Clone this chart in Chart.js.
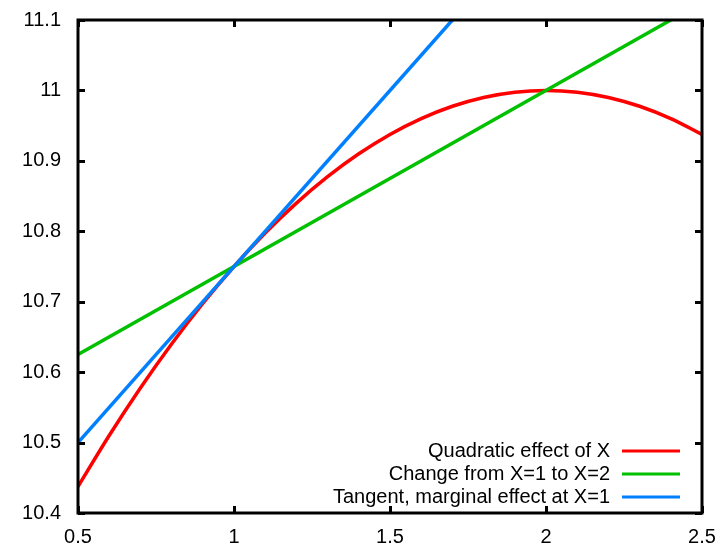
<!DOCTYPE html>
<html>
<head>
<meta charset="utf-8">
<script src="https://cdn.jsdelivr.net/npm/chart.js@4"></script>
<style>
  html, body { margin: 0; padding: 0; background: #fff; }
  #wrap { width: 724px; height: 545px; }
</style>
</head>
<body>
<div id="wrap"><canvas id="chart" width="724" height="545"></canvas></div>
<script>
// Curve samples and lines
const xs = [0.5, 0.6, 0.7, 0.8, 0.9, 1.0, 1.1, 1.2, 1.3, 1.4, 1.5, 1.6, 1.7, 1.8, 1.9, 2.0, 2.1, 2.2, 2.3, 2.4, 2.5];
const quadY = [10.4375, 10.51, 10.5775, 10.64, 10.6975, 10.75, 10.7975, 10.84, 10.8775, 10.91, 10.9375,
  10.96, 10.9775, 10.99, 10.9975, 11.0, 10.9975, 10.99, 10.9775, 10.96, 10.9375];
const chordX = [0.5, 2.4];
const chordY = [10.625, 11.1];
const tangentX = [0.5, 1.7];
const tangentY = [10.5, 11.1];

const seriesNames = ['Quadratic effect of X', 'Change from X=1 to X=2', 'Tangent, marginal effect at X=1'];
const seriesColors = ['#ff0000', '#00c000', '#0080ff'];

const xTicks = [0.5, 1, 1.5, 2, 2.5];
const yTicks = [10.4, 10.5, 10.6, 10.7, 10.8, 10.9, 11, 11.1];

const FONT = 'Liberation Sans, Arial, sans-serif';

function pts(x, y) {
  return x.map((v, i) => ({ x: v, y: y[i] }));
}

// Frame with inward ticks on all four sides, plus the legend in the lower right
const framePlugin = {
  id: 'frame',
  afterDatasetsDraw(chart) {
    const { ctx, chartArea: a, scales } = chart;
    ctx.save();
    ctx.strokeStyle = '#000';
    ctx.lineWidth = 3;
    const t = 7;
    ctx.beginPath();
    xTicks.forEach(v => {
      const px = Math.round(scales.x.getPixelForValue(v)) + 0.5;
      ctx.moveTo(px, a.bottom); ctx.lineTo(px, a.bottom - t);
      ctx.moveTo(px, a.top); ctx.lineTo(px, a.top + t);
    });
    yTicks.forEach(v => {
      const py = Math.round(scales.y.getPixelForValue(v)) + 0.5;
      ctx.moveTo(a.left, py); ctx.lineTo(a.left + t, py);
      ctx.moveTo(a.right, py); ctx.lineTo(a.right - t, py);
    });
    ctx.stroke();
    ctx.strokeRect(a.left, a.top, a.right - a.left, a.bottom - a.top);

    // legend
    ctx.font = '20px ' + FONT;
    ctx.textAlign = 'right';
    ctx.textBaseline = 'middle';
    seriesNames.forEach((name, i) => {
      const y = 451 + i * 23;
      ctx.fillStyle = '#000';
      ctx.fillText(name, 610, y);
      ctx.strokeStyle = seriesColors[i];
      ctx.lineWidth = 3;
      ctx.beginPath();
      ctx.moveTo(622, y); ctx.lineTo(680, y);
      ctx.stroke();
    });
    ctx.restore();
  }
};

new Chart(document.getElementById('chart'), {
  type: 'line',
  data: {
    datasets: [
      { label: seriesNames[0], data: pts(xs, quadY), borderColor: seriesColors[0], cubicInterpolationMode: 'monotone', order: 3 },
      { label: seriesNames[1], data: pts(chordX, chordY), borderColor: seriesColors[1], order: 2 },
      { label: seriesNames[2], data: pts(tangentX, tangentY), borderColor: seriesColors[2], order: 1 }
    ]
  },
  options: {
    responsive: false,
    animation: false,
    layout: { padding: { left: 0, top: 20, right: 22, bottom: 0 } },
    elements: {
      point: { radius: 0 },
      line: { borderWidth: 3.5, fill: false }
    },
    plugins: {
      legend: { display: false },
      tooltip: { enabled: false }
    },
    scales: {
      x: {
        type: 'linear',
        min: 0.5,
        max: 2.5,
        afterBuildTicks: s => { s.ticks = xTicks.map(v => ({ value: v })); },
        afterFit: s => { s.height = 32; s.paddingLeft = 0; s.paddingRight = 0; },
        grid: { display: false, drawTicks: false },
        border: { display: false },
        ticks: { padding: 12, color: '#000', font: { family: FONT, size: 20 }, callback: v => String(v) }
      },
      y: {
        type: 'linear',
        min: 10.4,
        max: 11.1,
        afterBuildTicks: s => { s.ticks = yTicks.map(v => ({ value: v })); },
        afterFit: s => { s.width = 78; s.paddingTop = 0; s.paddingBottom = 0; },
        grid: { display: false, drawTicks: false },
        border: { display: false },
        ticks: { padding: 17, color: '#000', font: { family: FONT, size: 20 }, callback: v => String(v) }
      }
    }
  },
  plugins: [framePlugin]
});
</script>
</body>
</html>
